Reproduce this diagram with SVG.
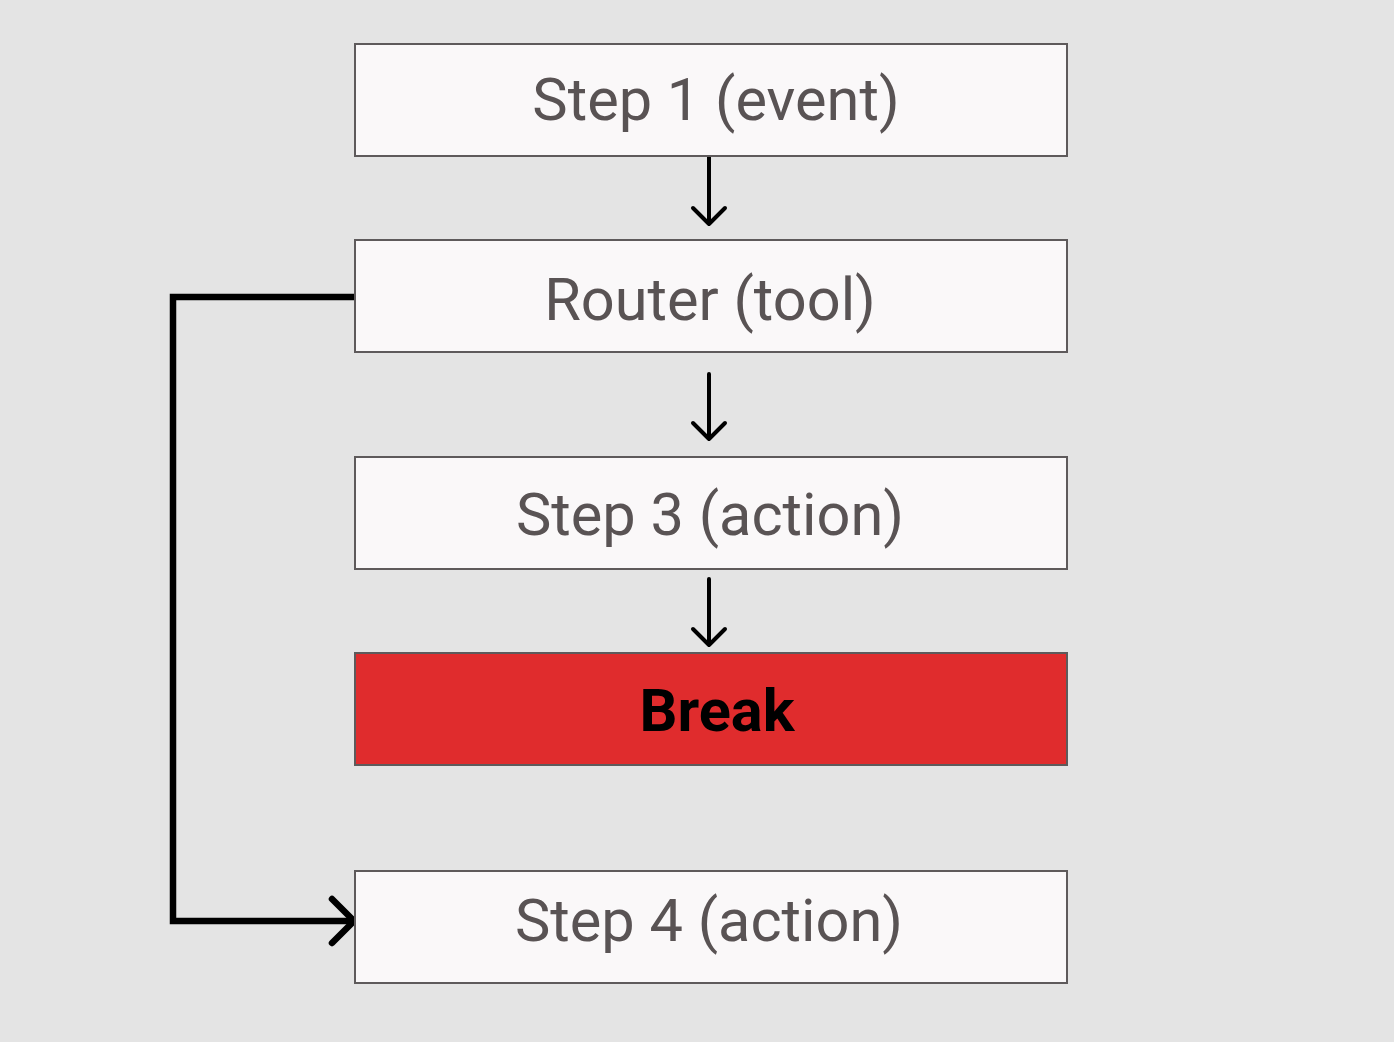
<svg xmlns="http://www.w3.org/2000/svg" width="1394" height="1042" viewBox="0 0 1394 1042">
<style>
.box{fill:#faf8f9;stroke:#5e5a5b;stroke-width:2}
.brk{fill:#e02c2d;stroke:#5e5a5b;stroke-width:2}
.lbl{font-family:Roboto,"Liberation Sans",sans-serif;font-size:59.5px;fill:#595354;text-anchor:middle}
.blbl{font-family:Roboto,"Liberation Sans",sans-serif;font-size:59.5px;font-weight:bold;fill:#000;text-anchor:middle}
.arr{fill:none;stroke:#000;stroke-width:4;stroke-linecap:round;stroke-linejoin:round}
.loop{fill:none;stroke:#000;stroke-width:6.5;stroke-linejoin:miter}
</style>
<rect width="1394" height="1042" fill="#e4e4e4"/>
<g id="connectors">
<path class="arr" d="M709 157V224M693 208L709 224L725 208"/>
<path class="arr" d="M709 374V439M693 423L709 439L725 423"/>
<path class="arr" d="M709 579V645M693 629L709 645L725 629"/>
<path class="loop" d="M354 297H173V921H354"/>
<path class="loop" stroke-linecap="round" d="M332 899L354 921L332 943"/>
</g>
<g id="step1"><rect class="box" x="355" y="44" width="712" height="112"/><text class="lbl" x="716" y="120">Step 1 (event)</text></g>
<g id="router"><rect class="box" x="355" y="240" width="712" height="112"/><text class="lbl" x="710" y="320">Router (tool)</text></g>
<g id="step3"><rect class="box" x="355" y="457" width="712" height="112"/><text class="lbl" x="710" y="535">Step 3 (action)</text></g>
<g id="break"><rect class="brk" x="355" y="653" width="712" height="112"/><text class="blbl" x="717" y="731">Break</text></g>
<g id="step4"><rect class="box" x="355" y="871" width="712" height="112"/><text class="lbl" x="709" y="941">Step 4 (action)</text></g>
</svg>
